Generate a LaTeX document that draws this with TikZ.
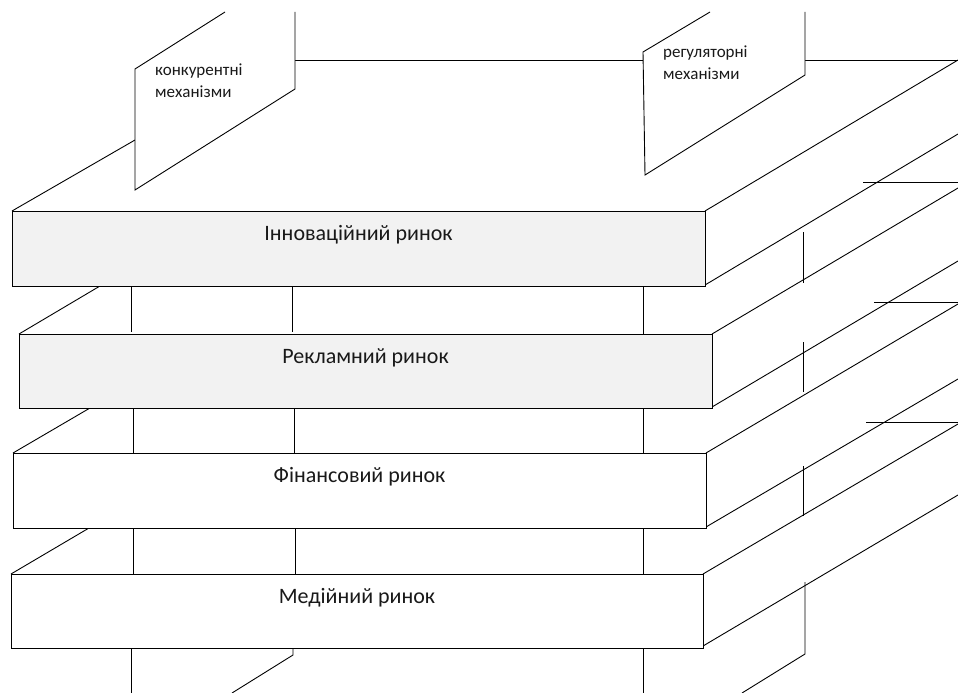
\documentclass[tikz,border=0pt]{standalone}
\usepackage{fontspec}
\setmainfont{Carlito}
\definecolor{slabgray}{HTML}{F2F2F2}
\begin{document}
\begin{tikzpicture}[x=1pt,y=-1pt,
  ln/.style={draw=black, line width=0.9pt},
  slab/.style={draw=black, line width=1pt, rectangle, inner sep=0pt, anchor=north west},
  graybox/.style={slab, fill=slabgray},
  whitebox/.style={slab, fill=white},
  biglabel/.style={anchor=base, inner sep=0pt, font=\fontsize{22}{26}\selectfont, text=black!90},
  smalllabel/.style={anchor=base west, inner sep=0pt, font=\fontsize{17}{22}\selectfont, text=black!90},
  plane/.style={fill=white, draw=none}]
\useasboundingbox (0,0) rectangle (958,693);
\clip (0,0) rectangle (958,693);
\fill[white] (0,0) rectangle (958,693);

% ---------- slab 1 (top) ----------
\draw[ln] (12,211) -- (135,140);
\draw[ln] (295,60) -- (643,60);
\draw[ln] (805,60) -- (958,60);
\draw[ln] (705,211) -- (958,60);
\draw[ln] (705,285) -- (958,134);

% ---------- planes above slab 1 ----------
\path[plane] (225,12) -- (135,69) -- (135,190) -- (295,89) -- (295,12) -- cycle;
\draw[ln] (225,12) -- (135,69) -- (135,190) -- (295,89) -- (295,12);
\path[plane] (710,12) -- (643,52) -- (645,175) -- (805,75) -- (805,12) -- cycle;
\draw[ln] (710,12) -- (643,52) -- (645,175) -- (805,75) -- (805,12);

\node[smalllabel] (kon1) at (155,75) {конкурентні};
\node[smalllabel] (kon2) at (155,97) {механізми};
\node[smalllabel] (reg1) at (663,58) {регуляторні};
\node[smalllabel] (reg2) at (663,80) {механізми};

% ---------- slab 2 ----------
\draw[ln] (19,334) -- (100,286);
\draw[ln] (863,182) -- (958,182);
\draw[ln] (712,334) -- (958,188);
\draw[ln] (712,407) -- (958,261);

% ---------- slab 3 ----------
\draw[ln] (13,453) -- (90,408);
\draw[ln] (874,302) -- (958,302);
\draw[ln] (706,453) -- (958,304);
\draw[ln] (706,527) -- (958,379);

% ---------- slab 4 ----------
\draw[ln] (11,574) -- (89,528);
\draw[ln] (866,422) -- (958,422);
\draw[ln] (703,574) -- (958,424);
\draw[ln] (703,646) -- (958,495);

% ---------- pillar lines ----------
\draw[ln] (131,286) -- (131,332);
\draw[ln] (292,286) -- (292,332);
\draw[ln] (643,286) -- (643,334);
\draw[ln] (803,232) -- (803,283);

\draw[ln] (133,408) -- (133,453);
\draw[ln] (294,408) -- (294,453);
\draw[ln] (643,403) -- (643,453);
\draw[ln] (803,342) -- (803,392);

\draw[ln] (133,528) -- (133,574);
\draw[ln] (295,528) -- (295,574);
\draw[ln] (643,523) -- (643,574);
\draw[ln] (803,466) -- (803,516);

\draw[ln] (131,648) -- (131,693);
\draw[ln] (293,648) -- (293,655) -- (232,693);
\draw[ln] (643,648) -- (643,693);
\draw[ln] (805,582) -- (805,654) -- (742,693);

% ---------- front faces ----------
\node[graybox, minimum width=693pt, minimum height=75pt] (s1) at (12,211) {};
\node[graybox, minimum width=693pt, minimum height=74pt] (s2) at (19,334) {};
\node[whitebox, minimum width=693pt, minimum height=75pt] (s3) at (13,453) {};
\node[whitebox, minimum width=692pt, minimum height=74pt] (s4) at (11,574) {};

\node[biglabel] (t1) at (358.5,240) {Інноваційний ринок};
\node[biglabel] (t2) at (365.5,363) {Рекламний ринок};
\node[biglabel] (t3) at (359.5,482) {Фінансовий ринок};
\node[biglabel] (t4) at (357,603) {Медійний ринок};
\end{tikzpicture}
\end{document}
